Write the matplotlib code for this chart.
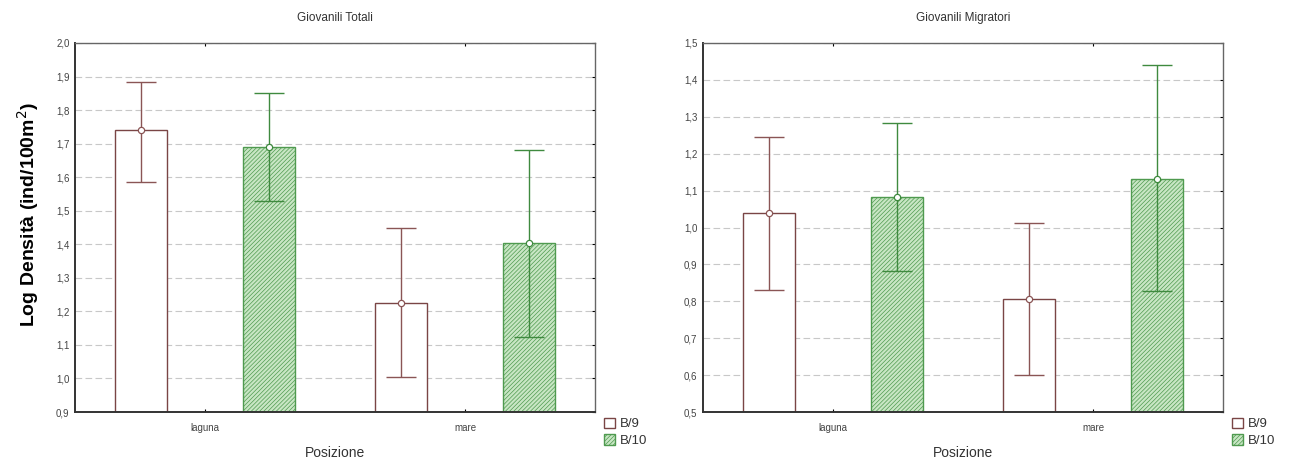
"""
Log density of juveniles by position, two sampling campaigns.
"""

import matplotlib.pyplot as plt
import numpy as np
from matplotlib.patches import Rectangle

positions = ["laguna", "mare"]
groups = ["B/9", "B/10"]

# Giovanili Totali: mean, upper and lower error limits
tot_mean = {"B/9": [1.74, 1.225], "B/10": [1.69, 1.405]}
tot_hi = {"B/9": [1.884, 1.45], "B/10": [1.852, 1.68]}
tot_lo = {"B/9": [1.587, 1.003], "B/10": [1.529, 1.124]}

# Giovanili Migratori
mig_mean = {"B/9": [1.039, 0.806], "B/10": [1.084, 1.131]}
mig_hi = {"B/9": [1.245, 1.012], "B/10": [1.284, 1.441]}
mig_lo = {"B/9": [0.831, 0.600], "B/10": [0.881, 0.827]}

plt.rcParams["font.family"] = ["Liberation Sans", "DejaVu Sans"]
plt.rcParams["hatch.linewidth"] = 0.5

STYLE = {
    "B/9": dict(face="white", edge="#7a4545", hatch=None, err="#8a5555"),
    "B/10": dict(face="#c8e6c4", edge="#4f9a4f", hatch="////////", err="#3f8a3f"),
}
OFFSET = {"B/9": -0.245, "B/10": 0.245}
WIDTH = 0.2


def panel(ax, title, mean, hi, lo, ylim, yticks):
    x = np.arange(len(positions))
    for g in groups:
        st = STYLE[g]
        xs = x + OFFSET[g]
        m = np.array(mean[g])
        ax.bar(xs, m - ylim[0], bottom=ylim[0], width=WIDTH, color=st["face"],
               edgecolor=st["edge"], hatch=st["hatch"], linewidth=1.0, zorder=2)
        ax.errorbar(xs, m, yerr=[m - np.array(lo[g]), np.array(hi[g]) - m],
                    fmt="none", ecolor=st["err"], elinewidth=1.0, capsize=11,
                    capthick=1.0, zorder=3)
        ax.plot(xs, m, "o", ms=4.5, mfc="white", mec=st["err"], mew=0.9, zorder=4)
    ax.set_xlim(-0.5, 1.5)
    ax.set_ylim(*ylim)
    ax.set_yticks(yticks)
    ax.set_yticklabels([f"{v:.1f}".replace(".", ",") for v in yticks],
                       fontsize=7, color="#444444")
    ax.set_xticks(x)
    ax.set_xticklabels(positions, fontsize=7, color="#444444")
    ax.tick_params(axis="x", length=2, direction="in", top=True, pad=8)
    ax.tick_params(axis="y", length=2, direction="in", right=True, left=False, pad=4)
    ax.yaxis.grid(True, linestyle=(0, (6, 3)), color="#c8c8c8", linewidth=0.8, zorder=0)
    ax.set_axisbelow(True)
    for side in ["left", "bottom"]:
        ax.spines[side].set_color("#333333")
        ax.spines[side].set_linewidth(1.4)
    for side in ["top", "right"]:
        ax.spines[side].set_color("#666666")
        ax.spines[side].set_linewidth(1.0)
    ax.set_title(title, fontsize=8.5, color="#333333", pad=16)
    ax.set_xlabel("Posizione", fontsize=10, color="#333333", labelpad=9)

    # legend drawn beside the lower right corner
    handles = []
    for g in groups:
        st = STYLE[g]
        handles.append(Rectangle((0, 0), 1, 1, facecolor=st["face"], edgecolor=st["edge"],
                                 hatch=st["hatch"], linewidth=1.0))
    ax.legend(handles, groups, loc="lower left", bbox_to_anchor=(1.0, -0.12),
              frameon=False, fontsize=9.5, handlelength=0.8, handleheight=0.8,
              handletextpad=0.4, labelspacing=0.3, borderaxespad=0.3,
              labelcolor="#333333")


fig = plt.figure(figsize=(12.98, 4.63), dpi=100)
ax1 = fig.add_axes([75 / 1298, 1 - 412 / 463, 520 / 1298, 369 / 463])
ax2 = fig.add_axes([703 / 1298, 1 - 412 / 463, 520 / 1298, 369 / 463])

panel(ax1, "Giovanili Totali", tot_mean, tot_hi, tot_lo, (0.9, 2.0),
      np.round(np.arange(0.9, 2.01, 0.1), 1))
panel(ax2, "Giovanili Migratori", mig_mean, mig_hi, mig_lo, (0.5, 1.5),
      np.round(np.arange(0.5, 1.51, 0.1), 1))

fig.text(28 / 1298, 1 - 215 / 463, "Log Densità (ind/100m$^2$)", rotation=90,
         ha="center", va="center", fontsize=14, fontweight="bold")

fig.savefig("out.png", dpi=100)
